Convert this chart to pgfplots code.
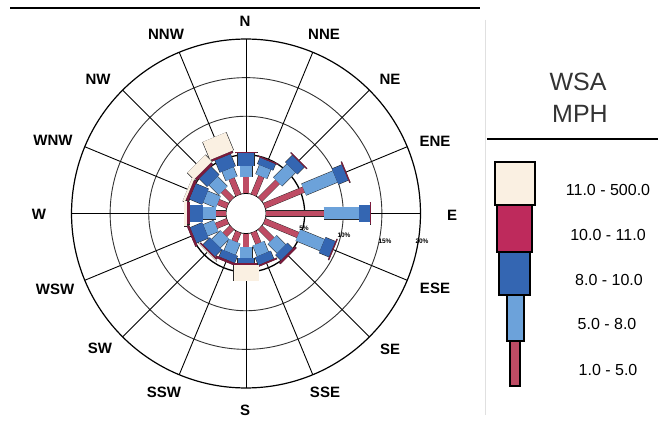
\documentclass[border=0pt]{standalone}
\usepackage{pgfplots}
\pgfplotsset{compat=1.18}
\usepackage{pgfplotstable}
\usepackage{fontspec}
\setmainfont{Liberation Sans}

\definecolor{cRed}{RGB}{190,76,100}
\definecolor{cLB}{RGB}{108,162,218}
\definecolor{cDB}{RGB}{52,102,178}
\definecolor{cCr}{RGB}{190,42,92}
\definecolor{cBg}{RGB}{250,240,226}

% compass direction (deg clockwise from N), cumulative percent at the end of each speed class
\pgfplotstableread{
dir   c0  c1   c2    c3    c4    c5
0     0   2.1  3.6   5.2   5.35  5.35
22.5  0   2.6  3.9   4.8   4.95  4.95
45    0   3.2  5.7   7.0   7.15  7.15
67.5  0   5.5  9.9   11.3  11.45 11.45
90    0   7.5  12.1  13.4  13.55 13.55
112.5 0   4.7  8.1   9.5   9.65  9.65
135   0   2.2  3.9   4.9   5.2   5.2
157.5 0   1.6  3.1   4.2   4.4   4.4
180   0   1.8  3.1   3.8   4.1   6.1
202.5 0   1.3  2.9   3.9   4.2   4.2
225   0   1.3  2.9   4.2   4.4   4.5
247.5 0   1.6  3.1   4.8   5.1   5.1
270   0   1.3  3.0   4.7   5.1   5.4
292.5 0   1.3  3.1   4.9   5.3   5.6
315   0   1.6  3.4   4.9   5.3   6.5
337.5 0   2.3  3.6   5.3   5.6   8.1
}\rose

% #1 from column, #2 to column, #3 colour, #4 width, #5 outline width
\newcommand{\seg}[5]{%
\addplot[draw=black!85, line width=#5,
  quiver={u={(\thisrow{#2}-\thisrow{#1})*sin(\thisrow{dir})},
          v={(\thisrow{#2}-\thisrow{#1})*cos(\thisrow{dir})}}]
  table[x expr={(\thisrow{#1}+2.6)*sin(\thisrow{dir})},
        y expr={(\thisrow{#1}+2.6)*cos(\thisrow{dir})}] {\rose};
\addplot[draw=#3, line width=#4,
  quiver={u={(\thisrow{#2}-\thisrow{#1})*sin(\thisrow{dir})},
          v={(\thisrow{#2}-\thisrow{#1})*cos(\thisrow{dir})}}]
  table[x expr={(\thisrow{#1}+2.6)*sin(\thisrow{dir})},
        y expr={(\thisrow{#1}+2.6)*cos(\thisrow{dir})}] {\rose};
}

\begin{document}
\begin{tikzpicture}[x=1pt,y=-1pt]
\useasboundingbox (0,0) rectangle (658,422);
\fill[white] (0,0) rectangle (658,422);
\coordinate (C) at (246,213.5);
% frame lines
\draw[line width=1.5pt] (10,8) -- (480,8);
\draw[black!12, line width=0.8pt] (485,20) -- (485,415);
\draw[line width=1.5pt] (487,139) -- (658,139);
% grid
\begin{scope}[shift={(C)}]
  \draw[black!80, line width=0.9pt] (0,0) circle[radius=97.27pt];
  \draw[black!80, line width=0.9pt] (0,0) circle[radius=135.87pt];
  \draw[black, line width=1.2pt] (0,0) circle[radius=174.47pt];
  \foreach \d in {0,22.5,...,337.5}
    \draw[line width=0.9pt] ({90-\d}:20pt) -- ({90-\d}:174.47pt);
  \draw[black, line width=1.3pt] (0,0) circle[radius=58.67pt];
  \draw[fill=white, line width=0.8pt] (0,0) circle[radius=20.07pt];
\end{scope}
\begin{axis}[at={(C)}, anchor=center, x=7.72pt, y=7.72pt,
  xmin=-23, xmax=23, ymin=-23, ymax=23, hide axis, clip=false]
  \seg{c0}{c1}{cRed}{5.5pt}{6.3pt}
  \seg{c1}{c2}{cLB}{12pt}{13pt}
  \seg{c2}{c3}{cDB}{16.5pt}{17.5pt}
  \seg{c3}{c4}{cCr!65!black}{22pt}{23pt}
  \seg{c4}{c5}{cBg}{25pt}{26.2pt}
\end{axis}
% compass labels
\begin{scope}[font=\bfseries\fontsize{15}{15}\selectfont]
\node at (245,21) {N};
\node at (324,34) {NNE};
\node at (390,79) {NE};
\node at (435,141) {ENE};
\node at (452,215) {E};
\node at (435,288) {ESE};
\node at (390,349) {SE};
\node at (325,392) {SSE};
\node at (245,410) {S};
\node at (164,392) {SSW};
\node at (100,348) {SW};
\node at (55,289) {WSW};
\node at (39,214) {W};
\node at (53,140) {WNW};
\node at (98,79) {NW};
\node at (166,34) {NNW};
\end{scope}
% percent labels
\begin{scope}[font=\bfseries\fontsize{6.5}{6.5}\selectfont]
\node at (304,228) {5\%};
\node at (344,235) {10\%};
\node at (385,241) {15\%};
\node at (422,241) {20\%};
\end{scope}
% legend
\node[font=\fontsize{25}{25}\selectfont, text=black!80] at (578,82) {WSA};
\node[font=\fontsize{25}{25}\selectfont, text=black!80] at (580,114) {MPH};
\draw[fill=cRed, line width=1.2pt] (510,341) rectangle (520,386);
\draw[fill=cLB, line width=1.5pt] (507,295) rectangle (524,341);
\draw[fill=cDB, line width=1.5pt] (499,252) rectangle (530,295);
\draw[fill=cCr, line width=1.2pt] (497,205) rectangle (532,252);
\draw[fill=cBg, line width=1.5pt] (495,162) rectangle (535,205);
\begin{scope}[font=\fontsize{16}{16}\selectfont]
\node at (608,190) {11.0 - 500.0};
\node at (608,235) {10.0 - 11.0};
\node at (609,280) {8.0 - 10.0};
\node at (607,324) {5.0 - 8.0};
\node at (608,370) {1.0 - 5.0};
\end{scope}
\end{tikzpicture}
\end{document}
